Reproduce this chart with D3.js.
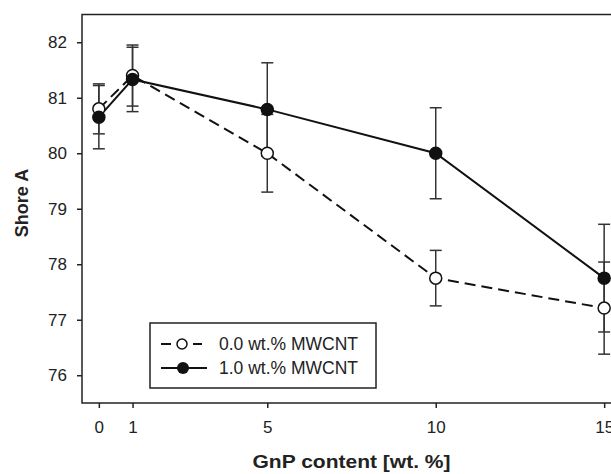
<!DOCTYPE html>
<html>
<head>
<meta charset="utf-8">
<script src="https://cdn.jsdelivr.net/npm/d3@7"></script>
<style>
  body { margin: 0; background: #fff; }
  text { font-family: Arial, "Liberation Sans", sans-serif; fill: #222; }
</style>
</head>
<body>
<svg id="chart" width="611" height="474"></svg>
<script>
// data
var gnp = [0, 1, 5, 10, 15];
var shoreOpen = [80.8, 81.4, 80.0, 77.75, 77.21];
var errOpen = [0.45, 0.55, 0.7, 0.5, 0.83];
var shoreFilled = [80.65, 81.33, 80.79, 80.0, 77.75];
var errFilled = [0.57, 0.58, 0.84, 0.82, 0.97];
var xTicks = [0, 1, 5, 10, 15];
var yTicks = [76, 77, 78, 79, 80, 81, 82];
var seriesNames = ["0.0 wt.% MWCNT", "1.0 wt.% MWCNT"];

var svg = d3.select("#chart");

// zone du graphique (le bord droit sort de l'image, comme sur l'original)
var x = d3.scaleLinear().domain([-0.5, 15.5]).range([82, 621]);
var y = d3.scaleLinear().domain([75.5, 82.5]).range([403, 14.5]);

// cadre
svg.append("rect")
  .attr("x", x(-0.5))
  .attr("y", y(82.5))
  .attr("width", x(15.5) - x(-0.5))
  .attr("height", y(75.5) - y(82.5))
  .attr("fill", "none")
  .attr("stroke", "#222")
  .attr("stroke-width", 1.5);

// axes
var xAxis = d3.axisBottom(x).tickValues(xTicks).tickSizeInner(5).tickSizeOuter(0).tickPadding(13);
var yAxis = d3.axisLeft(y).tickValues(yTicks).tickFormat(d3.format("d"))
  .tickSizeInner(5).tickSizeOuter(0).tickPadding(10);

var gx = svg.append("g").attr("transform", "translate(0," + y(75.5) + ")").call(xAxis);
var gy = svg.append("g").attr("transform", "translate(" + x(-0.5) + ",0)").call(yAxis);

[gx, gy].forEach(function(g) {
  g.select(".domain").remove();
  g.selectAll(".tick line").attr("stroke", "#222").attr("stroke-width", 1.5);
  g.selectAll(".tick text")
    .attr("font-size", "17px")
    .attr("font-family", "Arial, 'Liberation Sans', sans-serif")
    .attr("fill", "#222");
});

// titres des axes
svg.append("text")
  .attr("x", x(7.5))
  .attr("y", 468)
  .attr("text-anchor", "middle")
  .attr("font-size", "18px")
  .attr("font-weight", "bold")
  .attr("textLength", 198)
  .attr("lengthAdjust", "spacingAndGlyphs")
  .text("GnP content [wt. %]");

svg.append("text")
  .attr("transform", "translate(28," + 203 + ") rotate(-90)")
  .attr("text-anchor", "middle")
  .attr("font-size", "18px")
  .attr("font-weight", "bold")
  .text("Shore A");

// barres d'erreur
function drawErrors(vals, errs) {
  var g = svg.append("g").attr("stroke", "#333").attr("stroke-width", 1.5);
  gnp.forEach(function(d, i) {
    var cx = x(d);
    var top = y(vals[i] + errs[i]);
    var bot = y(vals[i] - errs[i]);
    g.append("line").attr("x1", cx).attr("x2", cx).attr("y1", top).attr("y2", bot);
    g.append("line").attr("x1", cx - 6).attr("x2", cx + 6).attr("y1", top).attr("y2", top);
    g.append("line").attr("x1", cx - 6).attr("x2", cx + 6).attr("y1", bot).attr("y2", bot);
  });
}
drawErrors(shoreOpen, errOpen);
drawErrors(shoreFilled, errFilled);

// lignes
var line = d3.line()
  .x(function(d, i) { return x(gnp[i]); })
  .y(function(d) { return y(d); });

svg.append("path")
  .datum(shoreOpen)
  .attr("d", line)
  .attr("fill", "none")
  .attr("stroke", "#111")
  .attr("stroke-width", 2)
  .attr("stroke-dasharray", "11,6");

svg.append("path")
  .datum(shoreFilled)
  .attr("d", line)
  .attr("fill", "none")
  .attr("stroke", "#111")
  .attr("stroke-width", 2);

// marqueurs
svg.append("g").selectAll("circle")
  .data(shoreOpen)
  .enter()
  .append("circle")
  .attr("cx", function(d, i) { return x(gnp[i]); })
  .attr("cy", function(d) { return y(d); })
  .attr("r", 6)
  .attr("fill", "#fff")
  .attr("stroke", "#111")
  .attr("stroke-width", 1.5);

svg.append("g").selectAll("circle")
  .data(shoreFilled)
  .enter()
  .append("circle")
  .attr("cx", function(d, i) { return x(gnp[i]); })
  .attr("cy", function(d) { return y(d); })
  .attr("r", 6)
  .attr("fill", "#111")
  .attr("stroke", "#111")
  .attr("stroke-width", 1.5);

// légende
var leg = svg.append("g");
leg.append("rect")
  .attr("x", 150).attr("y", 323)
  .attr("width", 226).attr("height", 65)
  .attr("fill", "#fff")
  .attr("stroke", "#222")
  .attr("stroke-width", 1.5);

var legY = [344, 368];
leg.append("line").attr("x1", 161).attr("x2", 202).attr("y1", legY[0]).attr("y2", legY[0])
  .attr("stroke", "#111").attr("stroke-width", 2).attr("stroke-dasharray", "10,22,10");
leg.append("circle").attr("cx", 182).attr("cy", legY[0]).attr("r", 5)
  .attr("fill", "#fff").attr("stroke", "#111").attr("stroke-width", 1.5);
leg.append("line").attr("x1", 161).attr("x2", 207).attr("y1", legY[1]).attr("y2", legY[1])
  .attr("stroke", "#111").attr("stroke-width", 2);
leg.append("circle").attr("cx", 183).attr("cy", legY[1]).attr("r", 6)
  .attr("fill", "#111");

leg.selectAll("text.lab")
  .data(seriesNames)
  .enter()
  .append("text")
  .attr("class", "lab")
  .attr("x", 219)
  .attr("y", function(d, i) { return legY[i] + 6; })
  .attr("font-size", "17.5px")
  .text(function(d) { return d; });
</script>
</body>
</html>
